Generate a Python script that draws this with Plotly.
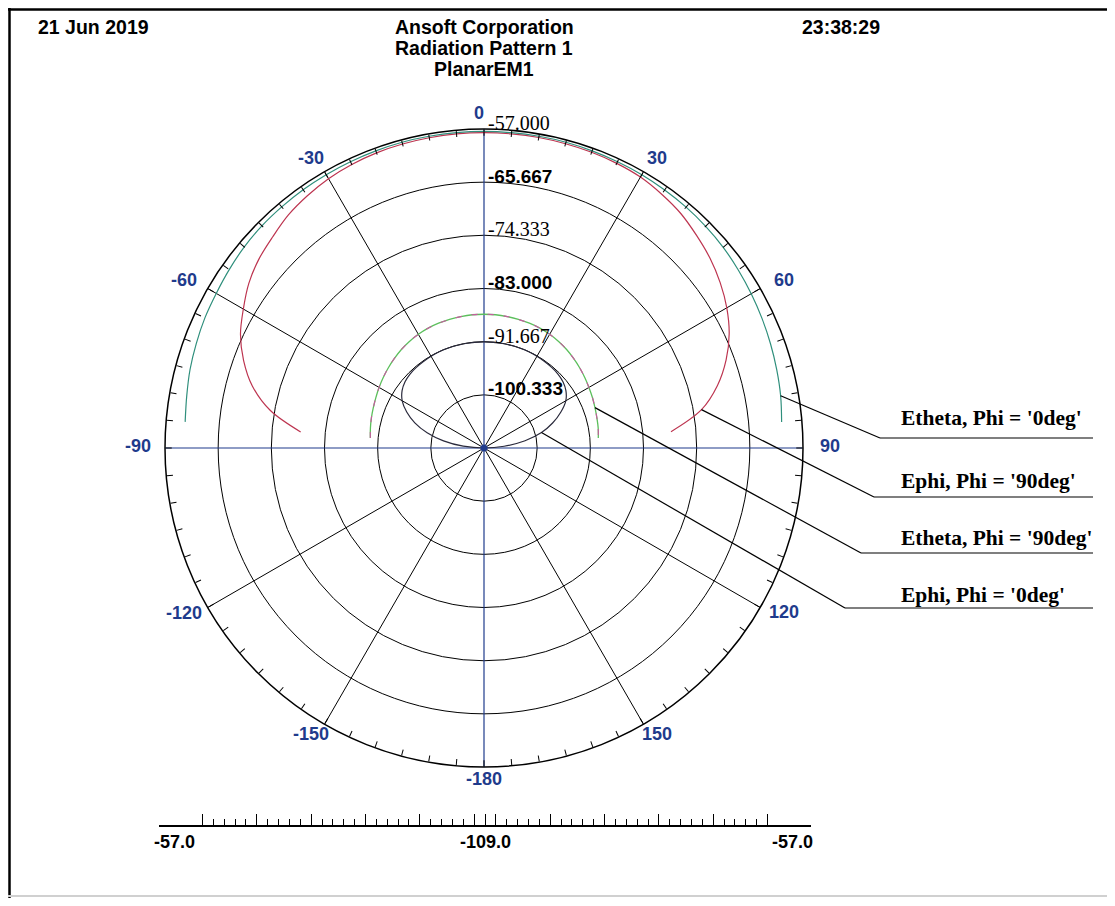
import math
import plotly.graph_objects as go

# ---------------- data ----------------
theta = [-85, -80, -75, -70, -65, -60, -55, -50, -45, -40, -35, -30, -25, -20, -15, -10, -5,
         0, 5, 10, 15, 20, 25, 30, 35, 40, 45, 50, 55, 60, 65, 70, 75, 80, 85]
theta_loop = [-90, -85, -80, -75, -70, -65, -60, -55, -50, -45, -40, -35, -30, -25, -20, -15, -10, -5,
              0, 5, 10, 15, 20, 25, 30, 35, 40, 45, 50, 55, 60, 65, 70, 75, 80, 85, 90]

etheta_phi0 = [-60.1, -59.8, -59.4, -59.1, -58.8, -58.6, -58.3, -58.0, -57.8, -57.7, -57.6, -57.55, -57.5,
               -57.45, -57.4, -57.4, -57.4, -57.4, -57.4, -57.4, -57.4, -57.45, -57.5, -57.55, -57.65,
               -57.75, -57.9, -58.1, -58.4, -58.7, -59.0, -59.3, -59.6, -59.9, -60.3]
ephi_phi90 = [-79.0, -73.6, -69.9, -67.3, -65.2, -63.7, -62.2, -61.1, -60.3, -59.4, -58.8, -58.3, -58.0,
              -57.8, -57.7, -57.65, -57.6, -57.6, -57.6, -57.6, -57.65, -57.7, -57.8, -58.0, -58.5,
              -59.1, -60.0, -60.9, -62.0, -63.3, -64.9, -67.0, -69.6, -73.0, -78.4]
etheta_phi90 = [-90.4, -90.2, -90.0, -89.8, -89.55, -89.25, -88.95, -88.65, -88.35, -88.05, -87.8, -87.6,
                -87.45, -87.35, -87.3, -87.25, -87.2, -87.2, -87.2, -87.25, -87.3, -87.35, -87.45, -87.6,
                -87.8, -88.05, -88.35, -88.65, -88.95, -89.25, -89.5, -89.75, -89.95, -90.1, -90.3]
ephi_phi0 = [-109.0, -105.6, -102.3, -99.4, -97.0, -95.1, -93.6, -92.7, -92.2, -91.95, -91.85, -91.8, -91.75,
             -91.7, -91.7, -91.7, -91.7, -91.7, -91.7, -91.7, -91.7, -91.7, -91.7, -91.7, -91.75,
             -91.8, -91.85, -91.95, -92.2, -92.7, -93.6, -95.2, -97.1, -99.3, -102.2, -105.7, -109.0]

series_names = ["Etheta, Phi = '0deg'", "Ephi, Phi = '90deg'", "Etheta, Phi = '90deg'", "Ephi, Phi = '0deg'"]
series_colors = ["#2f8f7c", "#bd3550", "#5cbf5c", "#2a2a3c"]

r_min, r_max = -109.0, -57.0
ring_vals = [-57.0, -65.667, -74.333, -83.0, -91.667, -100.333]
ring_labels = ["-57.000", "-65.667", "-74.333", "-83.000", "-91.667", "-100.333"]
ring_label_sans = [False, True, False, True, False, True]

angle_tick_vals = list(range(0, 360, 5))
angle_label_vals = [0, 30, 60, 90, 120, 150, 180, 210, 240, 270, 300, 330]
angle_label_text = ["0", "30", "60", "90", "120", "150", "-180", "-150", "-120", "-90", "-60", "-30"]
spokes_black = [30, 60, 120, 150, 210, 240, 300, 330]
spokes_blue = [0, 90, 180, 270]

scale_labels = ["-57.0", "-109.0", "-57.0"]
scale_major = [-52, -42, -32, -22, -12, -2, 0, 2, 12, 22, 32, 42, 52]

# ---------------- geometry (reference pixel coords, page offset 8px) ----------------
OFF = 8
W, H = 1107, 890
CX, CY, R = 484, 448, 319
LAB_A, LAB_B, LAB_D = 346, 333, -2   # angular label placement (centre of text)
NAVY = "#1f3b8c"


def px(x):
    return (x - OFF) / W


def py(y):
    return 1 - (y - OFF) / H


dom_x = [px(CX - R), px(CX + R)]
dom_y = [py(CY + R), py(CY - R)]


def polar_px(r, th):
    rp = (r - r_min) / (r_max - r_min) * R
    a = math.radians(th)
    return CX + rp * math.sin(a), CY - rp * math.cos(a)


fig = go.Figure()


def spoke_trace(angles, color, width):
    rr, tt = [], []
    for a in angles:
        rr += [r_min, r_max, None]
        tt += [a, a, None]
    return go.Scatterpolar(r=rr, theta=tt, mode="lines", line=dict(color=color, width=width),
                           hoverinfo="skip", showlegend=False)


fig.add_trace(spoke_trace(spokes_black, "black", 1))
fig.add_trace(spoke_trace(spokes_blue, NAVY, 1.2))

# data curves
fig.add_trace(go.Scatterpolar(r=ephi_phi0, theta=theta_loop, mode="lines", name=series_names[3],
                              line=dict(color=series_colors[3], width=1.2, shape="spline")))
fig.add_trace(go.Scatterpolar(r=etheta_phi90, theta=theta, mode="lines", name=series_names[2],
                              line=dict(color=series_colors[2], width=1.3, shape="spline")))
fig.add_trace(go.Scatterpolar(r=etheta_phi90, theta=theta, mode="lines", showlegend=False,
                              line=dict(color="#c85aa0", width=1.1, dash="6px,10px", shape="spline"),
                              hoverinfo="skip"))
fig.add_trace(go.Scatterpolar(r=ephi_phi90, theta=theta, mode="lines", name=series_names[1],
                              line=dict(color=series_colors[1], width=1.2, shape="spline")))
fig.add_trace(go.Scatterpolar(r=etheta_phi0, theta=theta, mode="lines", name=series_names[0],
                              line=dict(color=series_colors[0], width=1.2, shape="spline")))

# center dot
fig.add_trace(go.Scatterpolar(r=[r_min], theta=[0], mode="markers",
                              marker=dict(color=NAVY, size=7), hoverinfo="skip", showlegend=False))

# dummy trace for the bottom scale axis
fig.add_trace(go.Scatter(x=[None], y=[None], mode="lines", showlegend=False, hoverinfo="skip"))

shapes = []
annotations = []

# radial labels (along the 0 deg axis)
for val, lab, sans in zip(ring_vals, ring_labels, ring_label_sans):
    x, y = polar_px(val, 0)
    annotations.append(dict(
        text=("<b>%s</b>" % lab) if sans else lab, xref="paper", yref="paper",
        x=px(x + 3), y=py(y), xanchor="left", yanchor="middle", yshift=6, borderpad=0,
        showarrow=False,
        font=dict(family="Liberation Sans" if sans else "Liberation Serif", size=19 if sans else 20,
                  color="black")))

# angular labels
for ang, lab in zip(angle_label_vals, angle_label_text):
    s, c = math.sin(math.radians(ang)), math.cos(math.radians(ang))
    x = CX + LAB_A * s
    y = CY - LAB_B * c + LAB_D
    xs = -5 if ang == 0 else 0
    annotations.append(dict(text="<b>%s</b>" % lab, xref="paper", yref="paper", x=px(x), y=py(y),
                            xanchor="center", yanchor="middle", xshift=xs, borderpad=0, showarrow=False,
                            font=dict(family="Liberation Sans", size=18, color=NAVY)))

# legend callouts
legend_text_y = [418, 481, 538, 595]
underline_y = [438, 497, 553, 608]
underline_x0 = [880, 874, 861, 845]
anchor_theta = [80, 80, 70, 75]
anchor_series = [(theta, etheta_phi0), (theta, ephi_phi90), (theta, etheta_phi90), (theta_loop, ephi_phi0)]
for i in range(4):
    th_list, vals = anchor_series[i]
    k = th_list.index(anchor_theta[i])
    ax, ay = polar_px(vals[k], th_list[k])
    shapes.append(dict(type="line", xref="paper", yref="paper", x0=px(ax), y0=py(ay),
                       x1=px(underline_x0[i]), y1=py(underline_y[i]),
                       line=dict(color="black", width=1.2)))
    shapes.append(dict(type="line", xref="paper", yref="paper", x0=px(underline_x0[i]),
                       y0=py(underline_y[i]), x1=px(1093), y1=py(underline_y[i]),
                       line=dict(color="black", width=1.2)))
    annotations.append(dict(text="<b>%s</b>" % series_names[i], xref="paper", yref="paper",
                            x=px(899), y=py(legend_text_y[i]), xanchor="left", yanchor="middle",
                            showarrow=False, font=dict(family="Liberation Serif", size=21.5, color="black")))

# header texts
hdr_font = dict(family="Liberation Sans", size=19.5, color="black")
for txt, x, y, anc in [("21 Jun 2019", 36, 27, "left"), ("23:38:29", 800, 27, "left"),
                       ("Ansoft Corporation", 484, 27, "center"),
                       ("Radiation Pattern 1", 484, 48, "center"), ("PlanarEM1", 484, 69, "center")]:
    annotations.append(dict(text="<b>%s</b>" % txt, xref="paper", yref="paper", x=px(x), y=py(y),
                            xanchor=anc, yanchor="middle", showarrow=False, font=hdr_font))

# bottom scale labels
scale_font = dict(family="Liberation Sans", size=18, color="black")
for xv, anchor, lab, sh in [(-60, "left", scale_labels[0], -7), (0, "center", scale_labels[1], 0),
                            (60, "right", scale_labels[2], 4)]:
    annotations.append(dict(text="<b>%s</b>" % lab, xref="x", yref="paper", x=xv, y=py(842),
                            xanchor=anchor, yanchor="middle", xshift=sh, showarrow=False, font=scale_font))

# frame
shapes += [
    dict(type="line", xref="paper", yref="paper", x0=0, y0=py(9.5), x1=1.0, y1=py(9.5),
         line=dict(color="black", width=2.5)),
    dict(type="line", xref="paper", yref="paper", x0=px(9.5), y0=py(8), x1=px(9.5), y1=0,
         line=dict(color="black", width=2.5)),
    dict(type="line", xref="paper", yref="paper", x0=px(8), y0=py(896), x1=1.0, y1=py(896),
         line=dict(color="#d0d0d0", width=2)),
]

minor_vals = [v for v in range(-52, 53, 2) if v not in scale_major]

fig.update_layout(
    width=W, height=H, autosize=False,
    margin=dict(l=0, r=0, t=0, b=0),
    paper_bgcolor="white", plot_bgcolor="white",
    showlegend=False,
    polar=dict(
        domain=dict(x=dom_x, y=dom_y),
        bgcolor="white",
        radialaxis=dict(range=[r_min, r_max], tickmode="array", tickvals=ring_vals,
                        showticklabels=False, ticks="", showline=False, showgrid=True,
                        gridcolor="black", gridwidth=1),
        angularaxis=dict(rotation=90, direction="clockwise", tickmode="array",
                         tickvals=angle_tick_vals, showticklabels=False,
                         ticks="inside", ticklen=6, tickwidth=1, tickcolor="black",
                         showgrid=False, showline=True, linecolor="black", linewidth=1.5),
    ),
    xaxis=dict(domain=[px(159), px(811)], range=[-60, 60], anchor="y",
               showline=True, linecolor="black", linewidth=1.5,
               tickmode="array", tickvals=scale_major, showticklabels=False,
               ticks="inside", ticklen=11, tickwidth=1.3, tickcolor="black",
               showgrid=False, zeroline=False, fixedrange=True,
               minor=dict(tickmode="array", tickvals=minor_vals, ticks="inside", ticklen=6,
                          tickwidth=1, tickcolor="black", showgrid=False)),
    yaxis=dict(domain=[py(825), py(825) + 0.02], range=[0, 1], visible=False, fixedrange=True),
    shapes=shapes,
    annotations=annotations,
)

fig.write_html("out.html")
